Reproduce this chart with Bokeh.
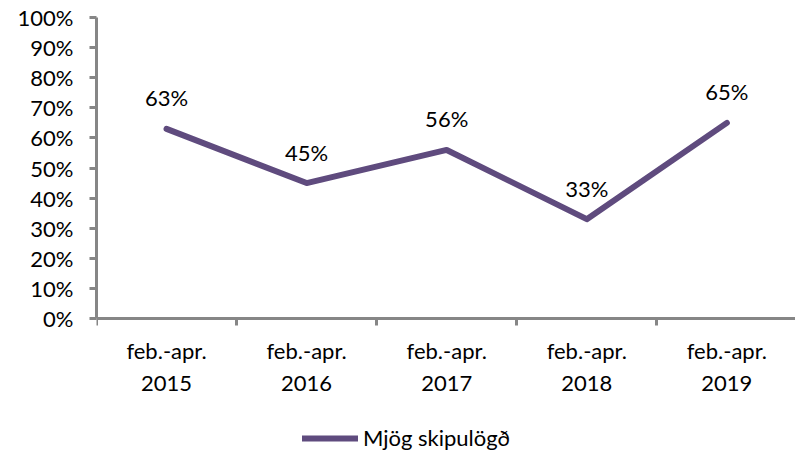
from bokeh.plotting import figure
from bokeh.models import Range1d, FixedTicker, NumeralTickFormatter, Legend, LegendItem, ColumnDataSource
from bokeh.core.properties import value
from bokeh.embed import file_html
from bokeh.resources import INLINE

categories = ["feb.-apr.\n2015", "feb.-apr.\n2016", "feb.-apr.\n2017", "feb.-apr.\n2018", "feb.-apr.\n2019"]
values = [0.63, 0.45, 0.56, 0.33, 0.65]
value_labels = ["63%", "45%", "56%", "33%", "65%"]
series_name = "Mjög skipulögð"
y_ticks = [0.0, 0.1, 0.2, 0.3, 0.4, 0.5, 0.6, 0.7, 0.8, 0.9, 1.0]

FONT = "Lato"
FS = "22px"
LINE_COLOR = "#5F4B7E"
AXIS_COLOR = "#868686"

xs = list(range(len(categories)))
src = ColumnDataSource(dict(x=xs, y=values, lab=value_labels))

p = figure(width=795, height=453, output_backend="svg", toolbar_location=None,
           x_range=Range1d(-0.5, 4.49), y_range=Range1d(-0.4485, 1),
           min_border_left=96, min_border_right=0, min_border_top=17, min_border_bottom=0)
p.outline_line_color = None
p.xgrid.visible = False
p.ygrid.visible = False

r = p.line("x", "y", source=src, line_color=LINE_COLOR, line_width=6, line_cap="round", line_join="round")
p.text("x", "y", text="lab", source=src, text_align="center", text_baseline="middle", y_offset=-31,
       text_font=value(FONT), text_font_size=FS, text_color="#000000")

# x axis (placed at y = 0 inside the frame)
xa = p.xaxis[0]
xa.fixed_location = 0
xa.ticker = FixedTicker(ticks=xs, minor_ticks=[-0.5, 0.5, 1.5, 2.5, 3.5, 4.5])
xa.major_label_overrides = {i: c for i, c in zip(xs, categories)}
xa.major_tick_out = 0
xa.major_tick_in = 0
xa.minor_tick_out = 7
xa.minor_tick_in = 0
xa.minor_tick_line_color = AXIS_COLOR
xa.minor_tick_line_width = 3
xa.axis_line_color = AXIS_COLOR
xa.axis_line_width = 3
xa.major_label_text_font = FONT
xa.major_label_text_font_size = FS
xa.major_label_text_color = "#000000"
xa.major_label_standoff = 11

ya = p.yaxis[0]
ya.bounds = (0, 1)
ya.ticker = FixedTicker(ticks=y_ticks)
ya.formatter = NumeralTickFormatter(format="0%")
ya.major_tick_out = 7
ya.major_tick_in = 0
ya.minor_tick_line_color = None
ya.major_tick_line_color = AXIS_COLOR
ya.major_tick_line_width = 3
ya.axis_line_color = AXIS_COLOR
ya.axis_line_width = 3
ya.major_label_text_font = FONT
ya.major_label_text_font_size = FS
ya.major_label_text_color = "#000000"
ya.major_label_standoff = 16

legend = Legend(items=[LegendItem(label=series_name, renderers=[r])], orientation="horizontal",
                location=(206, 2), border_line_color=None, background_fill_alpha=0,
                glyph_width=56, label_standoff=5, label_text_font=FONT, label_text_font_size=FS,
                label_text_color="#000000", margin=0, padding=0)
p.add_layout(legend, "center")

open("out.html", "w").write(file_html(p, INLINE))
